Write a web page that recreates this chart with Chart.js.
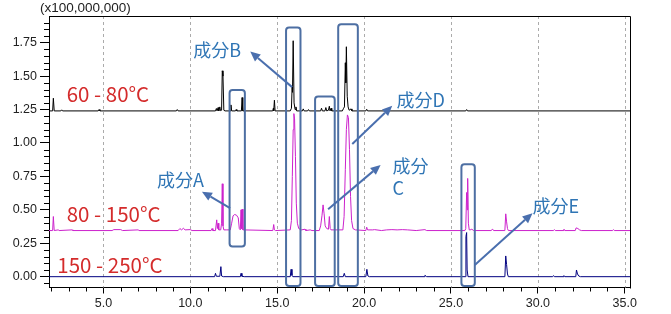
<!DOCTYPE html>
<html><head><meta charset="utf-8">
<script src="https://cdn.jsdelivr.net/npm/chart.js@4.4.1/dist/chart.umd.min.js"></script>
<style>html,body{margin:0;padding:0;background:#fff}canvas{display:block}</style>
</head><body>
<canvas id="c" width="671" height="314"></canvas>
<script>
// ---- data (retention time [min], intensity [x100,000,000]) ----
const xTickValues = [5, 10, 15, 20, 25, 30, 35];
const yTickValues = [0, 0.25, 0.5, 0.75, 1.0, 1.25, 1.5, 1.75];
const axisUnitLabel = '(x100,000,000)';
const traceLabels = ['60 - 80°C', '80 - 150°C', '150 - 250°C'];
const componentLabels = ['成分A', '成分B', '成分C', '成分D', '成分E'];

const trace60to80 = [
 [1.87,1.24],[2.08,1.24],[2.12,1.335],[2.17,1.24],[2.55,1.24],[2.6,1.248],[2.65,1.24],
 [4.7,1.24],[4.75,1.25],[4.8,1.24],[9.2,1.24],[9.25,1.25],[9.3,1.24],
 [11.45,1.24],[11.5,1.258],[11.54,1.24],[11.6,1.265],[11.64,1.24],[11.7,1.27],[11.74,1.242],
 [11.8,1.245],[11.84,1.54],[11.88,1.5],[11.93,1.245],[12.0,1.24],
 [12.3,1.24],[12.34,1.285],[12.38,1.24],[12.6,1.24],[12.64,1.25],[12.68,1.24],
 [12.94,1.24],[12.98,1.34],[13.02,1.24],
 [14.74,1.24],[14.78,1.26],[14.8,1.24],[14.84,1.32],[14.88,1.24],
 [15.75,1.24],[15.82,1.26],[15.86,1.42],[15.88,1.38],[15.92,1.765],[15.97,1.3],[16.03,1.25],
 [16.08,1.27],[16.12,1.24],[16.45,1.24],[16.5,1.255],[16.55,1.24],[16.75,1.24],[16.8,1.25],[16.85,1.24],
 [17.5,1.24],[17.55,1.26],[17.6,1.24],[17.75,1.24],[17.8,1.265],[17.85,1.24],
 [17.95,1.245],[18.0,1.275],[18.04,1.24],[18.1,1.26],[18.14,1.24],
 [18.75,1.24],[18.82,1.26],[18.87,1.27],[18.92,1.6],[18.95,1.45],[18.98,1.72],[19.03,1.35],
 [19.08,1.27],[19.14,1.245],[19.25,1.255],[19.3,1.24],
 [20.1,1.24],[20.15,1.252],[20.2,1.24],[25.85,1.24],[25.9,1.25],[25.95,1.24],[35.3,1.24]
];

const trace80to150 = [
 [1.87,0.345],[2.08,0.345],[2.12,0.45],[2.17,0.345],[2.4,0.35],[2.45,0.345],[3.2,0.35],[3.25,0.345],
 [5.5,0.345],[5.6,0.352],[6.0,0.352],[6.1,0.345],[7.0,0.35],[7.05,0.345],
 [9.3,0.345],[9.4,0.36],[9.5,0.35],[9.6,0.362],[9.7,0.35],[10.0,0.352],[10.1,0.345],
 [11.2,0.345],[11.25,0.36],[11.3,0.345],[11.45,0.345],[11.52,0.425],[11.56,0.36],[11.6,0.40],
 [11.64,0.35],[11.75,0.35],[11.8,0.40],[11.84,0.695],[11.88,0.38],[11.93,0.35],[12.1,0.35],
 [12.3,0.35],[12.38,0.4],[12.46,0.455],[12.55,0.465],[12.66,0.46],[12.76,0.44],[12.82,0.36],
 [12.88,0.35],[12.92,0.5],[12.95,0.36],[12.99,0.505],[13.03,0.35],
 [14.75,0.345],[14.8,0.39],[14.84,0.35],[14.9,0.345],
 [15.75,0.35],[15.82,0.42],[15.87,0.75],[15.92,1.1],[15.96,1.22],[16.0,1.18],[16.05,0.9],
 [16.1,0.55],[16.16,0.4],[16.24,0.36],[16.4,0.35],[16.6,0.355],[16.65,0.345],[16.9,0.35],[17.0,0.345],
 [17.42,0.345],[17.5,0.38],[17.58,0.46],[17.64,0.537],[17.7,0.47],[17.76,0.38],[17.85,0.36],
 [17.95,0.355],[18.0,0.45],[18.05,0.36],[18.1,0.35],
 [18.78,0.35],[18.85,0.45],[18.92,0.8],[18.98,1.1],[19.04,1.21],[19.1,1.19],[19.16,0.95],
 [19.22,0.6],[19.28,0.42],[19.36,0.36],[19.5,0.35],
 [20.1,0.345],[20.15,0.37],[20.2,0.35],[20.5,0.35],[20.6,0.352],[21.0,0.345],
 [21.3,0.35],[21.6,0.352],[21.9,0.35],[22.2,0.352],[22.5,0.35],[23.0,0.345],[23.5,0.352],[23.6,0.345],
 [25.8,0.345],[25.85,0.36],[25.9,0.63],[25.93,0.5],[25.96,0.735],[26.0,0.4],[26.05,0.35],
 [26.1,0.35],[26.2,0.355],[26.3,0.345],
 [27.3,0.345],[27.4,0.355],[27.45,0.345],[28.1,0.345],[28.15,0.47],[28.2,0.41],[28.25,0.36],[28.3,0.345],
 [30.9,0.345],[30.95,0.352],[31.0,0.345],[31.45,0.345],[31.5,0.355],[31.55,0.345],
 [32.15,0.345],[32.2,0.365],[32.3,0.36],[32.4,0.35],[32.5,0.345],[34.3,0.345],[34.35,0.352],[34.4,0.345],[35.3,0.345]
];

const trace150to250 = [
 [1.87,0],[11.4,0],[11.45,0.025],[11.5,0.003],[11.7,0.003],[11.76,0.075],[11.8,0.005],[11.9,0],
 [12.88,0],[12.92,0.025],[12.97,0.003],[13.1,0],
 [15.75,0],[15.8,0.055],[15.85,0.01],[15.9,0],[18.8,0],[18.86,0.025],[18.92,0],
 [20.1,0],[20.16,0.055],[20.22,0.005],[20.3,0],[23.45,0],[23.5,0.01],[23.6,0],
 [25.82,0],[25.86,0.3],[25.9,0.33],[25.93,0.05],[25.98,0],
 [28.1,0],[28.15,0.155],[28.2,0.09],[28.25,0.02],[28.3,0],
 [30.85,0],[30.9,0.008],[30.95,0],[31.45,0],[31.5,0.008],[31.55,0],
 [32.18,0],[32.22,0.05],[32.28,0.02],[32.35,0.005],[32.45,0],[35.3,0]
];

// ---- annotation layout (in data coordinates) ----
const annot = {
  boxes: [ // [x0, x1, yTop, yBottom]
    [12.26, 13.14, 1.397, 0.225],
    [15.51, 16.34, 1.864, -0.07],
    [17.18, 18.31, 1.347, -0.07],
    [18.51, 19.64, 1.889, -0.07],
    [25.60, 26.37, 0.841, -0.07]
  ],
  arrows: [ // [fromX, fromY, toX, toY]
    [12.29, 0.512, 10.67, 0.636],
    [15.86, 1.418, 13.45, 1.684],
    [17.93, 0.504, 20.95, 0.836],
    [19.32, 0.993, 21.62, 1.278],
    [26.37, 0.088, 29.69, 0.475]
  ],
  labels: [ // [text, x, y]
    [componentLabels[0], 8.09, 0.724],
    [componentLabels[1], 10.17, 1.696],
    ['成分', 21.64, 0.823],
    ['C', 21.64, 0.662],
    [componentLabels[3], 21.86, 1.32],
    [componentLabels[4], 29.69, 0.524]
  ],
  traceLabelPos: [[2.89, 1.365], [2.89, 0.469], [2.35, 0.088]]
};

const toXY = arr => arr.map(p => ({x: p[0], y: p[1]}));

const overlay = {
  id: 'overlay',
  beforeDatasetsDraw(chart) {
    const ctx = chart.ctx, xs = chart.scales.x, a = chart.chartArea;
    ctx.save();
    ctx.strokeStyle = '#ababab'; ctx.lineWidth = 1; ctx.setLineDash([3, 3]);
    ctx.beginPath();
    xTickValues.forEach(v => {
      const px = Math.round(xs.getPixelForValue(v)) + 0.5;
      ctx.moveTo(px, a.top); ctx.lineTo(px, a.bottom);
    });
    ctx.stroke();
    ctx.restore();
  },
  afterDraw(chart) {
    const ctx = chart.ctx, xs = chart.scales.x, ys = chart.scales.y, a = chart.chartArea;
    const X = v => xs.getPixelForValue(v), Y = v => ys.getPixelForValue(v);
    ctx.save();
    // frame top/right
    ctx.strokeStyle = '#000'; ctx.lineWidth = 1;
    ctx.beginPath();
    ctx.moveTo(Math.round(a.left) + 0.5, Math.round(a.top) + 0.5);
    ctx.lineTo(Math.round(a.right) + 0.5, Math.round(a.top) + 0.5);
    ctx.lineTo(Math.round(a.right) + 0.5, Math.round(a.bottom) + 0.5);
    ctx.stroke();
    // minor ticks
    ctx.beginPath();
    for (let k = -1; k <= 38; k++) {
      if (k % 5 === 0) continue;
      const py = Math.round(Y(k * 0.05)) + 0.5;
      if (py < a.top || py > a.bottom) continue;
      ctx.moveTo(a.left - 5, py); ctx.lineTo(a.left, py);
    }
    for (let k = 2; k <= 35; k++) {
      if (k % 5 === 0) continue;
      const px = Math.round(X(k)) + 0.5;
      ctx.moveTo(px, a.bottom); ctx.lineTo(px, a.bottom + 4);
    }
    ctx.stroke();
    // unit label
    ctx.fillStyle = '#222';
    ctx.font = '13.5px "Liberation Sans", Arial, sans-serif';
    ctx.textBaseline = 'middle'; ctx.textAlign = 'left';
    ctx.fillText(axisUnitLabel, 40, 8.5);
    // boxes
    ctx.strokeStyle = '#4d6fa3'; ctx.lineWidth = 2;
    annot.boxes.forEach(b => {
      const x0 = X(b[0]), x1 = X(b[1]), y0 = Y(b[2]), y1 = Y(b[3]);
      ctx.beginPath();
      ctx.roundRect(x0, y0, x1 - x0, y1 - y0, 3);
      ctx.stroke();
    });
    // arrows
    ctx.strokeStyle = '#4a6fae'; ctx.fillStyle = '#4a6fae'; ctx.lineWidth = 2;
    annot.arrows.forEach(r => {
      const x0 = X(r[0]), y0 = Y(r[1]), x1 = X(r[2]), y1 = Y(r[3]);
      const ang = Math.atan2(y1 - y0, x1 - x0), L = 10, W = 4.5;
      const bx = x1 - L * Math.cos(ang), by = y1 - L * Math.sin(ang);
      ctx.beginPath(); ctx.moveTo(x0, y0); ctx.lineTo(bx, by); ctx.stroke();
      ctx.beginPath();
      ctx.moveTo(x1, y1);
      ctx.lineTo(bx + W * Math.sin(ang), by - W * Math.cos(ang));
      ctx.lineTo(bx - W * Math.sin(ang), by + W * Math.cos(ang));
      ctx.closePath(); ctx.fill();
    });
    // component labels
    ctx.fillStyle = '#2f75b5';
    ctx.font = '18px "Noto Sans CJK JP", sans-serif';
    annot.labels.forEach(l => ctx.fillText(l[0], X(l[1]), Y(l[2])));
    // trace labels
    ctx.fillStyle = '#d42b2b';
    ctx.font = '20.5px "Noto Sans CJK JP", sans-serif';
    traceLabels.forEach((t, i) => ctx.fillText(t, X(annot.traceLabelPos[i][0]), Y(annot.traceLabelPos[i][1])));
    ctx.restore();
  }
};

new Chart(document.getElementById('c'), {
  type: 'line',
  data: {
    datasets: [
      {label: traceLabels[2], data: toXY(trace150to250), borderColor: '#000080'},
      {label: traceLabels[1], data: toXY(trace80to150), borderColor: '#cc22cc'},
      {label: traceLabels[0], data: toXY(trace60to80), borderColor: '#000000'}
    ].map(d => Object.assign(d, {borderWidth: 1, pointRadius: 0, tension: 0, fill: false}))
  },
  options: {
    responsive: false, animation: false, events: [],
    layout: {padding: {top: 16, right: 41, left: 0, bottom: 0}},
    plugins: {legend: {display: false}, tooltip: {enabled: false}},
    scales: {
      x: {
        type: 'linear', min: 1.87, max: 35.3,
        afterBuildTicks: s => { s.ticks = xTickValues.map(v => ({value: v})); },
        afterFit: s => { s.height = 26.5; },
        ticks: {callback: v => v.toFixed(1), color: '#222', padding: 3,
          font: {family: '"Liberation Sans", Arial, sans-serif', size: 12.5}, maxRotation: 0},
        grid: {drawOnChartArea: false, tickColor: '#000', tickLength: 6},
        border: {display: true, color: '#000', width: 1}
      },
      y: {
        type: 'linear', min: -0.081, max: 1.95,
        afterBuildTicks: s => { s.ticks = yTickValues.map(v => ({value: v})); },
        afterFit: s => { s.width = 49; },
        ticks: {callback: v => v.toFixed(2), color: '#222', padding: 3,
          font: {family: '"Liberation Sans", Arial, sans-serif', size: 12.5}},
        grid: {drawOnChartArea: false, tickColor: '#000', tickLength: 9},
        border: {display: true, color: '#000', width: 1}
      }
    }
  },
  plugins: [overlay]
});
</script>
</body></html>
